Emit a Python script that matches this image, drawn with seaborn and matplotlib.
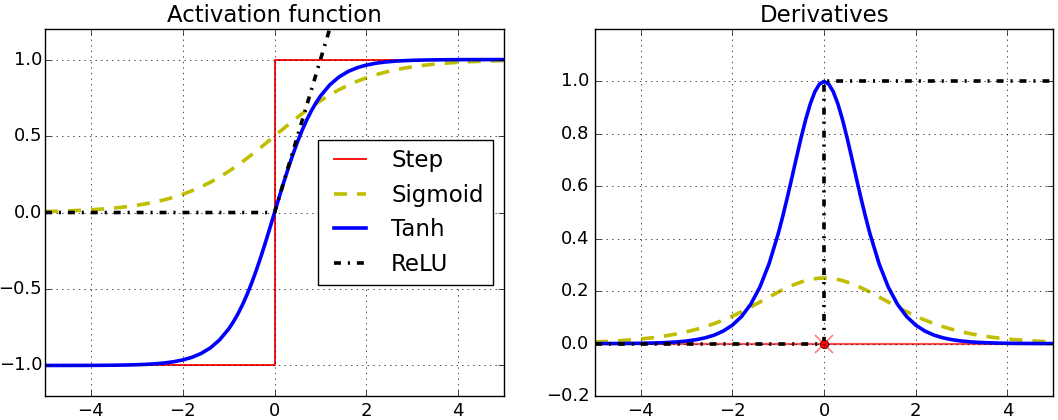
import matplotlib
matplotlib.use("Agg")
import matplotlib.pyplot as plt
import seaborn as sns

# sample points
xs = [-5.0, -4.8, -4.6, -4.4, -4.2, -4.0, -3.8, -3.6, -3.4, -3.2,
      -3.0, -2.8, -2.6, -2.4, -2.2, -2.0, -1.8, -1.6, -1.4, -1.2,
      -1.0, -0.9, -0.8, -0.7, -0.6, -0.5, -0.4, -0.3, -0.2, -0.1,
      0.0, 0.1, 0.2, 0.3, 0.4, 0.5, 0.6, 0.7, 0.8, 0.9,
      1.0, 1.2, 1.4, 1.6, 1.8, 2.0, 2.2, 2.4, 2.6, 2.8,
      3.0, 3.2, 3.4, 3.6, 3.8, 4.0, 4.2, 4.4, 4.6, 4.8, 5.0]

sigmoid = [0.0067, 0.0082, 0.0100, 0.0121, 0.0148, 0.0180, 0.0219, 0.0266, 0.0323, 0.0392,
           0.0474, 0.0573, 0.0691, 0.0832, 0.0998, 0.1192, 0.1419, 0.1680, 0.1978, 0.2315,
           0.2689, 0.2891, 0.3100, 0.3318, 0.3543, 0.3775, 0.4013, 0.4256, 0.4502, 0.4750,
           0.5000, 0.5250, 0.5498, 0.5744, 0.5987, 0.6225, 0.6457, 0.6682, 0.6900, 0.7109,
           0.7311, 0.7685, 0.8022, 0.8320, 0.8581, 0.8808, 0.9002, 0.9168, 0.9309, 0.9427,
           0.9526, 0.9608, 0.9677, 0.9734, 0.9781, 0.9820, 0.9852, 0.9879, 0.9900, 0.9918, 0.9933]

tanh = [-0.9999, -0.9999, -0.9998, -0.9997, -0.9996, -0.9993, -0.9990, -0.9985, -0.9978, -0.9967,
        -0.9951, -0.9926, -0.9890, -0.9837, -0.9757, -0.9640, -0.9468, -0.9217, -0.8854, -0.8337,
        -0.7616, -0.7163, -0.6640, -0.6044, -0.5370, -0.4621, -0.3799, -0.2913, -0.1974, -0.0997,
        0.0, 0.0997, 0.1974, 0.2913, 0.3799, 0.4621, 0.5370, 0.6044, 0.6640, 0.7163,
        0.7616, 0.8337, 0.8854, 0.9217, 0.9468, 0.9640, 0.9757, 0.9837, 0.9890, 0.9926,
        0.9951, 0.9967, 0.9978, 0.9985, 0.9990, 0.9993, 0.9996, 0.9997, 0.9998, 0.9999, 0.9999]

d_sigmoid = [0.0066, 0.0081, 0.0099, 0.0120, 0.0146, 0.0177, 0.0214, 0.0259, 0.0313, 0.0377,
             0.0452, 0.0540, 0.0643, 0.0763, 0.0898, 0.1050, 0.1218, 0.1398, 0.1587, 0.1779,
             0.1966, 0.2055, 0.2139, 0.2217, 0.2288, 0.2350, 0.2403, 0.2445, 0.2475, 0.2494,
             0.2500, 0.2494, 0.2475, 0.2445, 0.2403, 0.2350, 0.2288, 0.2217, 0.2139, 0.2055,
             0.1966, 0.1779, 0.1587, 0.1398, 0.1218, 0.1050, 0.0898, 0.0763, 0.0643, 0.0540,
             0.0452, 0.0377, 0.0313, 0.0259, 0.0214, 0.0177, 0.0146, 0.0120, 0.0099, 0.0081, 0.0066]

d_tanh = [0.0002, 0.0003, 0.0004, 0.0006, 0.0009, 0.0013, 0.0020, 0.0030, 0.0045, 0.0066,
          0.0099, 0.0147, 0.0219, 0.0323, 0.0480, 0.0707, 0.1036, 0.1505, 0.2161, 0.3050,
          0.4200, 0.4869, 0.5591, 0.6347, 0.7116, 0.7864, 0.8556, 0.9151, 0.9610, 0.9901,
          1.0000, 0.9901, 0.9610, 0.9151, 0.8556, 0.7864, 0.7116, 0.6347, 0.5591, 0.4869,
          0.4200, 0.3050, 0.2161, 0.1505, 0.1036, 0.0707, 0.0480, 0.0323, 0.0219, 0.0147,
          0.0099, 0.0066, 0.0045, 0.0030, 0.0020, 0.0013, 0.0009, 0.0006, 0.0004, 0.0003, 0.0002]

step_x = [-5.0, 0.0, 0.0, 5.0]
step_y = [-1.0, -1.0, 1.0, 1.0]
relu_x = [-5.0, 0.0, 5.0]
relu_y = [0.0, 0.0, 5.0]

d_step_x = [-5.0, 5.0]
d_step_y = [0.0, 0.0]
d_relu_x = [-5.0, 0.0, 0.0, 5.0]
d_relu_y = [0.0, 0.0, 1.0, 1.0]

plt.style.use("classic")
plt.rcParams["font.family"] = ["DejaVu Sans"]
plt.rcParams["xtick.labelsize"] = 13
plt.rcParams["ytick.labelsize"] = 13

fig = plt.figure(figsize=(10.58, 4.2), dpi=100, facecolor="white")
ax1 = fig.add_axes([0.0425, 0.057, 0.434, 0.874])
ax2 = fig.add_axes([0.5624, 0.057, 0.433, 0.874])

common = dict(estimator=None, sort=False)
yel = (0.75, 0.75, 0)
dash = (0, (9.4, 7.2))
dashdot = (0, (5.0, 5.0, 1.5, 5.0))
lw = 2.6

sns.lineplot(x=step_x, y=step_y, ax=ax1, color="r", linewidth=1.3, label="Step", **common)
sns.lineplot(x=xs, y=sigmoid, ax=ax1, color=yel, linestyle=dash, linewidth=lw, label="Sigmoid", **common)
sns.lineplot(x=xs, y=tanh, ax=ax1, color="b", linewidth=lw, label="Tanh", **common)
sns.lineplot(x=relu_x, y=relu_y, ax=ax1, color="k", linestyle=dashdot, linewidth=lw, label="ReLU", **common)
ax1.grid(True)
ax1.legend(loc="center right", fontsize=16.5)
ax1.set_title("Activation function", fontsize=16.5)
ax1.set_xlim(-5, 5)
ax1.set_ylim(-1.2, 1.2)
ax1.set_yticks([-1.0, -0.5, 0.0, 0.5, 1.0])
ax1.set_xticks([-4, -2, 0, 2, 4])
ax1.tick_params(axis="y", pad=2)

sns.lineplot(x=d_step_x, y=d_step_y, ax=ax2, color="r", linewidth=1.6, alpha=0.7, legend=False, **common)
sns.lineplot(x=xs, y=d_sigmoid, ax=ax2, color=yel, linestyle=dash, linewidth=lw, legend=False, **common)
sns.lineplot(x=xs, y=d_tanh, ax=ax2, color="b", linewidth=lw, legend=False, **common)
sns.lineplot(x=d_relu_x, y=d_relu_y, ax=ax2, color="k", linestyle=dashdot, linewidth=lw, legend=False, **common)
ax2.plot([0], [0], "ro", markersize=6)
ax2.plot([0], [0], "rx", markersize=13, markeredgewidth=1.2, alpha=0.5)
ax2.grid(True)
ax2.set_title("Derivatives", fontsize=16.5)
ax2.set_xlim(-5, 5)
ax2.set_ylim(-0.2, 1.2)
ax2.set_yticks([-0.2, 0.0, 0.2, 0.4, 0.6, 0.8, 1.0])
ax2.set_xticks([-4, -2, 0, 2, 4])

for ax in (ax1, ax2):
    ax.set_xlabel("")
    ax.set_ylabel("")

fig.savefig("out.png", dpi=100, facecolor="white")
